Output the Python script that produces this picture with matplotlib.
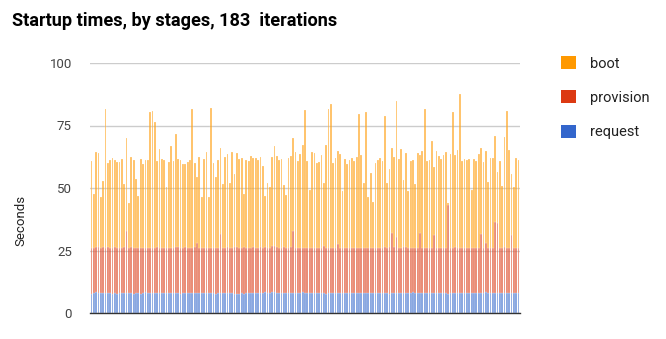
import matplotlib
matplotlib.use("Agg")
import matplotlib.pyplot as plt
import numpy as np
from matplotlib.patches import Patch

plt.rcParams['font.family'] = ['Roboto', 'DejaVu Sans']

# total seconds per iteration (top of each stack)
totals = [
    60.9, 47.8, 64.6, 64.1, 46.5, 52.9, 81.5, 60.2, 61.3, 62.2,
    61.3, 60.5, 60.5, 61.7, 51.5, 69.9, 44.1, 62.6, 61.1, 53.7,
    46.9, 61.7, 59.7, 61.1, 61.1, 80.3, 81.0, 76.3, 60.9, 65.8,
    61.7, 61.1, 50.6, 60.3, 66.7, 60.9, 71.5, 61.7, 61.1, 59.8,
    59.8, 60.6, 61.3, 81.5, 59.9, 54.3, 62.6, 46.5, 61.7, 64.6,
    46.5, 81.9, 59.9, 54.3, 61.3, 65.9, 51.8, 62.6, 63.8, 51.9,
    64.6, 55.7, 64.1, 61.5, 61.9, 47.8, 61.3, 60.9, 63.0, 62.1,
    62.1, 61.3, 62.6, 58.7, 46.9, 51.9, 50.5, 62.5, 66.7, 63.0,
    61.1, 61.8, 51.3, 47.3, 61.9, 62.9, 69.9, 64.5, 60.7, 63.7,
    67.1, 81.3, 60.9, 49.3, 64.6, 64.1, 59.9, 60.5, 63.4, 51.9,
    67.1, 81.5, 83.5, 60.2, 62.1, 65.0, 63.8, 48.9, 61.7, 59.7,
    61.1, 61.9, 61.0, 62.6, 79.8, 63.1, 51.9, 80.6, 46.6, 56.2,
    44.6, 60.2, 61.3, 62.1, 60.6, 78.9, 51.9, 57.5, 66.2, 62.6,
    84.7, 61.8, 65.8, 53.3, 64.2, 48.9, 60.7, 61.1, 51.8, 64.2,
    63.4, 64.9, 81.5, 60.7, 61.1, 69.0, 58.6, 64.9, 63.0, 61.7,
    63.1, 64.5, 44.2, 63.7, 80.2, 63.1, 65.3, 87.5, 60.9, 61.7,
    61.1, 61.5, 49.3, 61.7, 60.9, 63.7, 66.2, 60.6, 64.9, 52.5,
    62.1, 62.1, 70.9, 56.6, 60.9, 51.0, 70.3, 81.0, 65.3, 55.7,
    50.6, 61.9, 61.1,
]

request = [
    7.8, 8.1, 8.3, 8.2, 7.9, 8.2, 8.0, 8.1, 7.9, 7.8,
    8.2, 7.6, 8.0, 8.1, 8.0, 8.1, 8.0, 8.0, 7.8, 8.0,
    8.0, 7.8, 7.9, 8.3, 8.1, 8.0, 7.9, 7.9, 8.2, 8.1,
    7.9, 8.0, 8.0, 8.0, 8.1, 8.1, 8.1, 8.0, 7.8, 8.1,
    7.9, 8.0, 8.0, 8.2, 8.1, 8.1, 8.0, 7.9, 8.0, 8.0,
    8.2, 8.1, 7.9, 7.8, 8.0, 8.0, 8.0, 8.0, 8.1, 8.0,
    7.9, 7.7, 7.8, 7.8, 7.9, 7.6, 7.9, 8.0, 8.1, 8.1,
    8.2, 8.1, 8.1, 8.0, 8.6, 7.9, 8.0, 8.3, 8.3, 8.0,
    8.1, 8.2, 8.0, 8.0, 8.1, 8.1, 8.2, 8.0, 7.9, 8.1,
    8.3, 8.0, 7.9, 7.9, 8.0, 7.9, 8.0, 8.0, 7.9, 7.9,
    7.8, 8.1, 8.1, 8.0, 8.0, 8.2, 8.0, 8.0, 8.0, 8.1,
    7.9, 7.9, 8.2, 8.1, 8.1, 8.0, 8.1, 8.0, 8.0, 8.1,
    8.0, 8.0, 8.1, 8.1, 8.2, 7.9, 8.1, 7.8, 8.0, 8.1,
    8.1, 8.0, 8.1, 8.1, 8.0, 8.0, 8.2, 8.4, 8.2, 8.0,
    8.1, 7.9, 8.0, 8.0, 8.0, 8.0, 8.1, 8.1, 8.1, 8.0,
    8.2, 8.0, 7.8, 8.0, 8.1, 8.2, 8.0, 8.0, 8.1, 8.1,
    8.0, 7.9, 8.0, 8.0, 8.1, 8.0, 8.2, 8.0, 8.3, 8.0,
    8.1, 8.0, 8.2, 8.0, 8.0, 8.1, 8.2, 7.9, 8.0, 8.0,
    8.0, 8.0, 8.0,
]

provision = [
    18.2, 18.0, 18.3, 18.4, 18.3, 18.1, 18.0, 18.2, 18.0, 18.1,
    18.1, 18.5, 18.2, 18.0, 18.3, 24.8, 17.9, 18.3, 18.4, 18.0,
    18.1, 18.4, 18.2, 17.9, 18.0, 18.2, 18.3, 18.3, 18.2, 18.1,
    18.1, 18.0, 18.1, 18.2, 18.1, 18.0, 18.2, 18.4, 18.3, 18.0,
    18.4, 18.1, 18.0, 17.9, 18.2, 20.1, 18.2, 18.3, 18.0, 18.1,
    17.8, 18.1, 18.3, 18.4, 18.2, 23.5, 18.0, 18.1, 18.3, 18.2,
    18.3, 18.6, 18.5, 18.4, 18.2, 18.7, 18.3, 18.0, 18.1, 18.2,
    18.0, 18.1, 18.2, 18.2, 17.8, 18.3, 18.2, 18.5, 18.5, 18.6,
    18.1, 18.0, 18.3, 18.2, 18.1, 18.2, 24.8, 18.1, 18.2, 18.0,
    17.9, 18.2, 18.3, 18.2, 18.1, 18.2, 18.1, 18.0, 18.3, 19.0,
    18.3, 18.0, 18.1, 18.2, 18.1, 19.5, 18.2, 18.2, 18.1, 18.0,
    18.2, 18.2, 18.0, 18.1, 18.1, 18.2, 18.1, 18.2, 18.1, 18.0,
    18.1, 18.1, 18.0, 18.1, 17.9, 18.4, 18.1, 18.5, 23.9, 18.2,
    22.5, 18.2, 18.1, 18.2, 18.3, 18.1, 17.9, 17.8, 18.0, 18.1,
    23.9, 18.3, 18.1, 18.0, 18.2, 18.1, 23.0, 18.1, 18.0, 18.2,
    18.0, 18.1, 35.5, 18.1, 18.0, 18.2, 18.1, 18.0, 18.0, 18.1,
    18.0, 18.2, 18.1, 18.0, 18.1, 18.1, 23.5, 18.0, 19.9, 18.1,
    18.1, 18.0, 28.4, 28.2, 18.0, 18.1, 18.3, 18.2, 18.1, 23.1,
    18.0, 18.1, 18.0,
]

series_names = ['boot', 'provision', 'request']
series_colors = ['#ff9900', '#dc3912', '#3366cc']

req = np.array(request)
prov = np.array(provision)
boot = np.array(totals) - req - prov
x = np.arange(len(totals))

fig = plt.figure(figsize=(6.66, 3.39), dpi=100)
ax = fig.add_axes([90 / 666, 26 / 339, 430 / 666, 250 / 339])

# bars are so thin in the original that they read as washed-out colours
bw = 0.75
for bottom, vals, col in [(None, req, series_colors[2]),
                          (req, prov, series_colors[1]),
                          (req + prov, boot, series_colors[0])]:
    ax.bar(x, vals, bottom=bottom, width=bw, color=col, alpha=0.62,
           edgecolor='white', linewidth=0.2, zorder=3)

ax.set_xlim(-0.6, len(totals) - 0.4)
ax.set_ylim(0, 100)
ax.set_yticks([0, 25, 50, 75, 100])
ax.set_xticks([])
ax.yaxis.grid(True, color='#cccccc', linewidth=1, zorder=0)
for s in ['top', 'right', 'left']:
    ax.spines[s].set_visible(False)
ax.spines['bottom'].set_color('#333333')
ax.spines['bottom'].set_linewidth(1)
ax.spines['bottom'].set_zorder(4)
ax.tick_params(axis='y', length=0, pad=13, labelsize=9.5, labelcolor='#444444')
ax.set_ylabel('Seconds', fontsize=9.5, color='#222222')
ax.yaxis.set_label_coords(-0.145, 0.37)

fig.text(12 / 666, 1 - 21 / 339, 'Startup times, by stages, 183  iterations',
         fontsize=13.1, fontweight='bold', color='#000000', va='center', ha='left')

handles = [Patch(facecolor=c, edgecolor='none') for c in series_colors]
fig.legend(handles, series_names, loc='upper left',
           bbox_to_anchor=(548 / 666, 1 - 43 / 339), frameon=False,
           handlelength=1.0, handleheight=1.0, handletextpad=1.0,
           labelspacing=1.35, fontsize=10.5, labelcolor='#222222')

fig.savefig('out.png', dpi=100)
